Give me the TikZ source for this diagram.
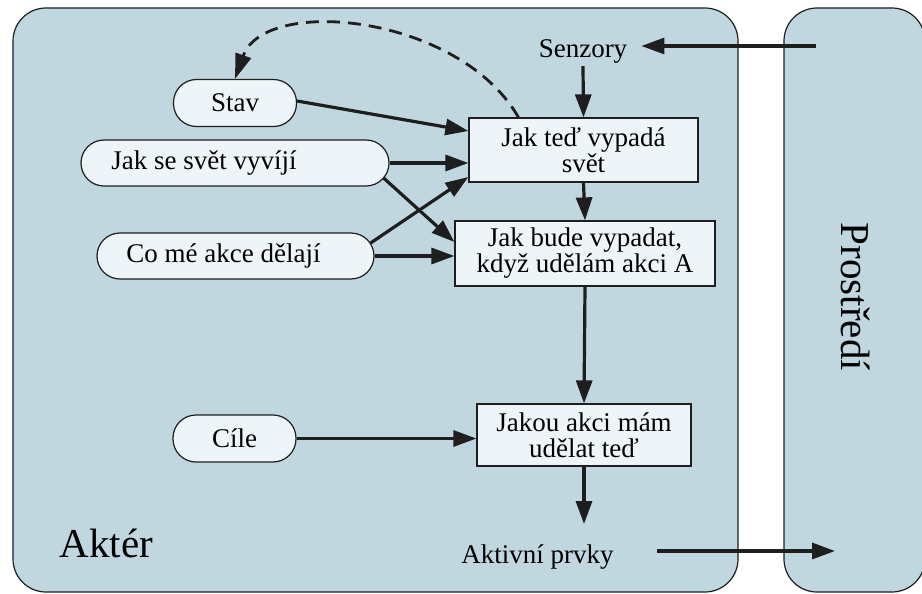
\documentclass[tikz,border=0pt]{standalone}
\usepackage{fontspec}
\setmainfont{Liberation Serif}
\usetikzlibrary{arrows.meta,calc}
\definecolor{panelfill}{RGB}{192,215,223}
\definecolor{nodefill}{RGB}{238,245,248}
\definecolor{ink}{RGB}{30,30,30}
\begin{document}
\begin{tikzpicture}[x=1pt,y=-1pt,
  panel/.style={draw=ink,line width=1.2pt,fill=panelfill,rounded corners=33pt},
  pill/.style={draw=ink,line width=1.2pt,fill=nodefill,rounded corners=23pt,inner sep=0pt,
    font=\fontsize{27}{26}\selectfont},
  boxnode/.style={draw=ink,line width=1.2pt,fill=nodefill,inner sep=0pt,align=center,
    font=\fontsize{27}{26}\selectfont},
  lbl/.style={font=\fontsize{27}{26}\selectfont},
  conn/.style={draw=ink,line width=3.2pt,-{Triangle[length=23pt,width=16pt]}},
  dconn/.style={draw=ink,line width=2.8pt,dash pattern=on 13pt off 8pt,-{Triangle[length=25pt,width=16pt]}}]
\useasboundingbox (0,0) rectangle (922,594);
% panels
\path[panel] (13,8) rectangle (738,592);
\path[panel] (784,8) rectangle (925,592);
\node[font=\fontsize{41}{41}\selectfont,anchor=base west] (akter) at (56,557) {Aktér};
\node[font=\fontsize{41}{41}\selectfont,rotate=-90] (prost) at (856,297) {Prostředí};
% left nodes
\node[pill,minimum width=123pt,minimum height=47pt] (stav) at (235,103) {Stav};
\node[pill,minimum width=308pt,minimum height=46pt] (vyv) at (235,163) {\hspace*{-62pt}Jak se svět vyvíjí};
\node[pill,minimum width=277pt,minimum height=46pt] (akce) at (235.5,256) {\hspace*{-24pt}Co mé akce dělají};
\node[pill,minimum width=123pt,minimum height=47pt] (cile) at (234.5,438.5) {Cíle};
% boxes
\node[boxnode,minimum width=229pt,minimum height=64pt] (b1) at (583.5,150) {Jak teď vypadá\\svět};
\node[boxnode,minimum width=260pt,minimum height=65pt] (b2) at (585,253.5) {Jak bude vypadat,\\když udělám akci A};
\node[boxnode,minimum width=214pt,minimum height=62pt] (b3) at (584,435) {Jakou akci mám\\udělat teď};
% labels
\node[lbl,inner xsep=14pt,inner ysep=3pt] (senz) at (583,51) {Senzory};
\node[lbl] (akt) at (537.5,557) {Aktivní prvky};
\coordinate (envin) at (816,46);
\coordinate (outa) at (657,551);
\coordinate (outb) at (835,551);
% connectors
\draw[conn] (envin) -- (senz.east |- envin);
\draw[conn] (senz.south) -- (b1.north);
\draw[conn] (b1.south) -- (b2.north);
\draw[conn] (b2.south) -- (b3.north);
\draw[conn] (b3.south) -- (b3.south |- 0,524);
\draw[conn] (outa) -- (outb);
\draw[conn] ([yshift=2pt]stav.east) -- ([yshift=19pt]b1.west);
\draw[conn] (vyv.east) -- ([yshift=-13pt]b1.west);
\draw[conn] ([xshift=-6pt,yshift=-15pt]vyv.east) -- ([yshift=11.5pt]b2.west);
\draw[conn] ([xshift=-4pt,yshift=13pt]akce.east) -- ([yshift=-27pt]b1.west);
\draw[conn] (akce.east) -- ([yshift=-2.5pt]b2.west);
\draw[conn] (cile.east) -- (b3.west |- cile.east);
\draw[dconn] ([xshift=-65pt]b1.north) .. controls (460,15) and (265,-5) .. (stav.north);
\end{tikzpicture}
\end{document}
